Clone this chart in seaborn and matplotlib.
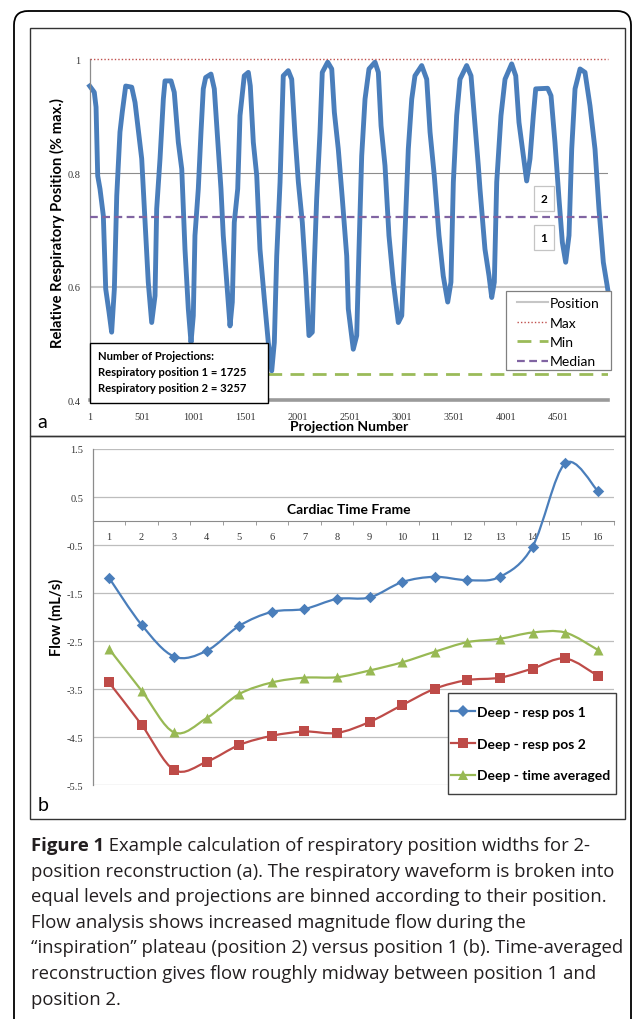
import numpy as np
import pandas as pd
import matplotlib
matplotlib.use("Agg")
import matplotlib.pyplot as plt
from matplotlib.path import Path
from matplotlib.patches import PathPatch, Rectangle, FancyBboxPatch
from matplotlib.lines import Line2D
from matplotlib.transforms import Affine2D
import seaborn as sns

W, H, DPI = 633, 1020, 100

# ---------------- Panel a data: respiratory waveform keypoints ----------------
projection = [1, 45, 62, 78, 100, 132, 155, 187, 212, 238, 261, 292, 314, 347, 405, 437, 475, 501,
              533, 564, 597, 629, 645, 677, 709, 725, 783, 814, 853, 886, 917, 949, 975, 997, 1013,
              1045, 1071, 1093, 1116, 1167, 1199, 1237, 1263, 1285, 1318, 1350, 1372, 1391, 1424,
              1446, 1487, 1526, 1545, 1574, 1607, 1638, 1680, 1718, 1751, 1776, 1799, 1831, 1847,
              1862, 1910, 1943, 1975, 2007, 2045, 2078, 2109, 2141, 2160, 2183, 2215, 2237, 2289,
              2328, 2353, 2391, 2430, 2472, 2487, 2535, 2568, 2590, 2616, 2648, 2686, 2744, 2776,
              2802, 2840, 2878, 2920, 2968, 3001, 3026, 3064, 3097, 3128, 3193, 3241, 3273, 3314,
              3359, 3400, 3443, 3474, 3497, 3529, 3561, 3625, 3667, 3698, 3737, 3753, 3801, 3840,
              3866, 3891, 3914, 3955, 3994, 4058, 4097, 4128, 4170, 4202, 4234, 4266, 4289, 4404,
              4436, 4474, 4513, 4545, 4577, 4609, 4635, 4667, 4715, 4763, 4811, 4859, 4897, 4939,
              4981]
position = [0.953, 0.942, 0.916, 0.795, 0.772, 0.725, 0.596, 0.555, 0.520, 0.596, 0.760, 0.872,
            0.907, 0.953, 0.951, 0.924, 0.866, 0.825, 0.713, 0.608, 0.537, 0.584, 0.737, 0.825,
            0.930, 0.962, 0.962, 0.942, 0.854, 0.807, 0.666, 0.561, 0.502, 0.549, 0.690, 0.772,
            0.872, 0.948, 0.968, 0.974, 0.948, 0.842, 0.772, 0.690, 0.608, 0.531, 0.573, 0.713,
            0.772, 0.901, 0.971, 0.977, 0.953, 0.854, 0.795, 0.666, 0.578, 0.502, 0.452, 0.502,
            0.654, 0.784, 0.883, 0.971, 0.980, 0.965, 0.866, 0.784, 0.713, 0.619, 0.514, 0.520,
            0.637, 0.754, 0.872, 0.977, 0.995, 0.983, 0.907, 0.842, 0.754, 0.654, 0.561, 0.490,
            0.514, 0.666, 0.830, 0.930, 0.983, 0.995, 0.977, 0.883, 0.813, 0.690, 0.608, 0.537,
            0.549, 0.666, 0.842, 0.930, 0.971, 0.989, 0.965, 0.872, 0.795, 0.690, 0.619, 0.573,
            0.608, 0.784, 0.901, 0.965, 0.989, 0.971, 0.901, 0.813, 0.772, 0.666, 0.619, 0.581,
            0.608, 0.784, 0.901, 0.965, 0.992, 0.971, 0.889, 0.830, 0.786, 0.825, 0.901, 0.948,
            0.949, 0.936, 0.854, 0.754, 0.678, 0.643, 0.690, 0.842, 0.948, 0.983, 0.977, 0.918,
            0.842, 0.737, 0.643, 0.596]
n_projections = 4982
max_level = 1.0
min_level = 0.447
median_level = 0.722
position_level = 0.6
a_yticks = [0.4, 0.6, 0.8, 1.0]
a_yticklabels = ["0.4", "0.6", "0.8", "1"]
a_xticks = [1, 501, 1001, 1501, 2001, 2501, 3001, 3501, 4001, 4501]
count_pos1 = 1725
count_pos2 = 3257

# ---------------- Panel b data: flow per cardiac time frame ----------------
frames = list(range(1, 17))
resp_pos1 = [-1.18, -2.16, -2.82, -2.70, -2.18, -1.89, -1.83, -1.62, -1.59, -1.27, -1.16, -1.23,
             -1.16, -0.53, 1.20, 0.63]
resp_pos2 = [-3.36, -4.24, -5.18, -5.01, -4.66, -4.47, -4.38, -4.41, -4.18, -3.83, -3.49, -3.31,
             -3.26, -3.07, -2.86, -3.22]
time_avg = [-2.66, -3.53, -4.40, -4.10, -3.60, -3.36, -3.26, -3.25, -3.11, -2.94, -2.72, -2.52,
            -2.45, -2.32, -2.32, -2.68]
b_yticks = [1.5, 0.5, -0.5, -1.5, -2.5, -3.5, -4.5, -5.5]
series_b = [("Deep - resp pos 1", resp_pos1, "#4a7ebb", "D", 34),
            ("Deep - resp pos 2", resp_pos2, "#be4b48", "s", 44),
            ("Deep - time averaged", time_avg, "#98b954", "^", 52)]

caption_bold = "Figure 1"
caption_lines = [
    " Example calculation of respiratory position widths for 2-",
    "position reconstruction (a). The respiratory waveform is broken into",
    "equal levels and projections are binned according to their position.",
    "Flow analysis shows increased magnitude flow during the",
    "\u201cinspiration\u201d plateau (position 2) versus position 1 (b). Time-averaged",
    "reconstruction gives flow roughly midway between position 1 and",
    "position 2.",
]

SANS = "Lato"
SERIF = "Liberation Serif"
CAP = "Open Sans"
plt.rcParams["font.family"] = [SANS, "DejaVu Sans"]

fig = plt.figure(figsize=(W / DPI, H / DPI), dpi=DPI)
fig.patch.set_facecolor("white")
PX = Affine2D().scale(1 / DPI, -1 / DPI).translate(0, H / DPI) + fig.dpi_scale_trans


def axes_px(l, t, r, b):
    return fig.add_axes([l / W, 1 - b / H, (r - l) / W, (b - t) / H])


def ftext(x, y, s, **kw):
    return fig.text(x / W, 1 - y / H, s, **kw)


# outer border and panel frames
fig.add_artist(FancyBboxPatch((14, 12), 617, 1040, boxstyle="round,pad=0,rounding_size=14",
                              transform=PX, fill=False, ec="black", lw=1.3, clip_on=False))
fig.add_artist(Rectangle((30, 29), 595, 408, transform=PX, fill=False, ec="#333333", lw=1.0))
fig.add_artist(Rectangle((30, 437), 595, 383, transform=PX, fill=False, ec="#333333", lw=1.0))

# ---------------- Panel a ----------------
axA = axes_px(89.7, 60.3, 607.8, 401.4)
axA.set_xlim(1, n_projections)
axA.set_ylim(0.4, 1.0)
axA.set_facecolor("none")
axA.axhline(0.8, color="#8c8c8c", lw=0.8, zorder=1)
pos_line = axA.axhline(position_level, color="#c6c6c6", lw=1.5, zorder=1, label="Position")
df_a = pd.DataFrame({"proj": projection, "pos": position})
sns.lineplot(data=df_a, x="proj", y="pos", sort=False, estimator=None, ax=axA,
             color="#4a7ebb", lw=3.5, zorder=2, clip_on=False)
max_line = axA.axhline(max_level, color="#c0504d", lw=1.0, ls=(0, (1, 1.5)), zorder=3,
                       clip_on=False, label="Max")
min_line = axA.axhline(min_level, color="#9bbb59", lw=2.0, ls=(0, (5, 3)), zorder=3, label="Min")
med_line = axA.axhline(median_level, color="#8064a2", lw=1.6, ls=(0, (3.5, 2)), zorder=3,
                       label="Median")
axA.axhline(0.4, color="#9a9a9a", lw=2.6, zorder=3, clip_on=False)
for s in ["top", "right", "bottom"]:
    axA.spines[s].set_visible(False)
axA.spines["left"].set_color("#8c8c8c")
axA.spines["left"].set_linewidth(0.9)
axA.set_yticks(a_yticks)
axA.set_yticklabels(a_yticklabels, fontfamily=SERIF, fontsize=7.5, color="#333333")
axA.set_xticks(a_xticks)
axA.set_xticklabels([str(t) for t in a_xticks], fontfamily=SERIF, fontsize=7.5, color="#333333")
axA.tick_params(axis="y", length=0, pad=6.8)
axA.tick_params(axis="x", length=0, pad=8)
axA.set_xlabel("")
axA.set_ylabel("")

# legend a: frame drawn as a box, entries placed inside it
fig.add_artist(Rectangle((506, 292), 105, 79, transform=PX, fc="white", ec="#808080",
                         lw=0.9, zorder=9))
leg = fig.legend([pos_line, max_line, min_line, med_line], ["Position", "Max", "Min", "Median"],
                 loc="upper left", bbox_to_anchor=(517 / W, 1 - 298 / H),
                 bbox_transform=fig.transFigure, frameon=False, fontsize=10, handlelength=2.2,
                 handletextpad=0.15, labelspacing=0.54, borderpad=0, borderaxespad=0)
leg.set_zorder(10)

# numbered level boxes
for lab, top in (("2", 186.7), ("1", 226.0)):
    fig.add_artist(Rectangle((533.5, top), 20, 25, transform=PX, fc="white", ec="#c4c4c4",
                             lw=0.9, zorder=5))
    ftext(543.5, top + 12.5, lab, ha="center", va="center", fontsize=8.5,
          fontweight="bold", zorder=6)

# projection count box
fig.add_artist(Rectangle((89.7, 344), 178.5, 60, transform=PX, fc="white", ec="black",
                         lw=1.0, zorder=8))
for txt, yy in (("Number of Projections:", 357.0),
                (f"Respiratory position 1 = {count_pos1}", 373.0),
                (f"Respiratory position 2 = {count_pos2}", 389.0)):
    ftext(98, yy, txt, ha="left", va="center", fontsize=8.1, fontweight="bold", zorder=9)

ftext(57, 223, "Relative Respiratory Position (% max.)", rotation=90, ha="center",
      va="center", fontsize=10.6, fontweight="bold")
ftext(349, 427, "Projection Number", ha="center", va="center", fontsize=10, fontweight="bold")
ftext(37, 428, "a", ha="left", va="baseline", fontsize=14)

# ---------------- Panel b ----------------
axB = axes_px(92.7, 450, 614, 786.3)
axB.set_xlim(0.5, 16.5)
axB.set_ylim(-5.5, 1.5)
axB.set_facecolor("none")
for s in ["top", "right"]:
    axB.spines[s].set_visible(False)
axB.spines["bottom"].set_position(("data", 0))
axB.spines["bottom"].set_color("#8c8c8c")
axB.spines["left"].set_color("#8c8c8c")
axB.spines["left"].set_linewidth(0.9)
axB.set_yticks(b_yticks)
axB.set_yticklabels([f"{v:g}" for v in b_yticks], fontfamily=SERIF, fontsize=7.5,
                    color="#333333")
axB.yaxis.grid(True, color="#bdbdbd", lw=0.9)
axB.set_axisbelow(True)
axB.set_xticks(frames)
axB.set_xticklabels([str(f) for f in frames], fontfamily=SERIF, fontsize=7.5, color="#333333")
axB.set_xticks(np.arange(0.5, 17, 1), minor=True)
axB.tick_params(axis="x", which="major", length=0, pad=8)
axB.tick_params(axis="x", which="minor", length=3.2, color="#8c8c8c", direction="out")
axB.tick_params(axis="y", length=0, pad=6.8)


def smooth_path(xs, ys):
    pts = np.column_stack([xs, ys]).astype(float)
    n = len(pts)
    verts = [pts[0]]
    codes = [Path.MOVETO]
    for i in range(n - 1):
        p0 = pts[i - 1] if i > 0 else pts[i]
        p1, p2 = pts[i], pts[i + 1]
        p3 = pts[i + 2] if i + 2 < n else pts[i + 1]
        verts += [p1 + (p2 - p0) / 6, p2 - (p3 - p1) / 6, p2]
        codes += [Path.CURVE4] * 3
    return Path(verts, codes)


handles = []
for name, vals, col, mk, sz in series_b:
    axB.add_patch(PathPatch(smooth_path(frames, vals), fill=False, ec=col, lw=1.6, zorder=3))
    sns.scatterplot(x=frames, y=vals, marker=mk, s=sz, color=col, edgecolor=col,
                    linewidth=0, ax=axB, zorder=4, legend=False)
    handles.append(Line2D([], [], color=col, lw=1.6, marker=mk,
                          markersize=np.sqrt(sz), markeredgewidth=0))
axB.set_xlabel("")
axB.set_ylabel("")
fig.add_artist(Rectangle((448, 694), 168, 101, transform=PX, fc="white", ec="#404040",
                         lw=1.0, zorder=9))
legb = fig.legend(handles, [s[0] for s in series_b], loc="upper left",
                  bbox_to_anchor=(451 / W, 1 - 707 / H), bbox_transform=fig.transFigure,
                  frameon=False, prop={"family": SANS, "size": 10, "weight": "bold"},
                  handlelength=1.75, handletextpad=0.1, labelspacing=1.42, borderpad=0,
                  borderaxespad=0)
legb.set_zorder(10)

ftext(349, 510, "Cardiac Time Frame", ha="center", va="center", fontsize=10,
      fontweight="bold")
ftext(56, 617, "Flow (mL/s)", rotation=90, ha="center", va="center", fontsize=10.6,
      fontweight="bold")
ftext(38, 811, "b", ha="left", va="baseline", fontsize=14)

# ---------------- Caption (size fitted to the 591 px text column) ----------------
cap_kw = dict(color="#231f20", va="center", ha="left", family=[CAP, "DejaVu Sans"])
base = 13.8
y0, dy = 846, 25.6
renderer = fig.canvas.get_renderer()
px_per_disp = W / (fig.get_figwidth() * fig.dpi)
tb = ftext(31, y0, caption_bold, fontweight="bold", fontsize=base, **cap_kw)
t0 = ftext(31, y0, caption_lines[0], fontsize=base, **cap_kw)
rest = [ftext(31, y0 + i * dy, line, fontsize=base, **cap_kw)
        for i, line in enumerate(caption_lines[1:], start=1)]
w_first = (tb.get_window_extent(renderer).width + t0.get_window_extent(renderer).width) * px_per_disp
widths = [w_first] + [t.get_window_extent(renderer).width * px_per_disp for t in rest]
size = base * 590.0 / max(widths)
for t in [tb, t0] + rest:
    t.set_fontsize(size)
x_after = 31 + tb.get_window_extent(renderer).width * px_per_disp
t0.set_x(x_after / W)

fig.savefig("out.png", dpi=DPI)
